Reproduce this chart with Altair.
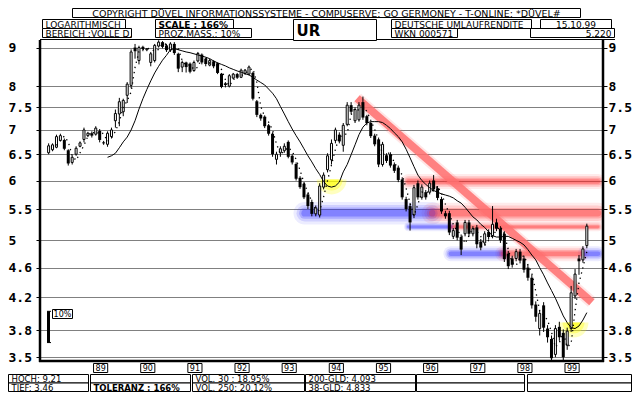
import altair as alt
import pandas as pd

# ---------------- data ----------------
MONTHS = [str(p) for p in pd.period_range("1988-05", "1999-10", freq="M")]

OPEN = [6.53, 6.59, 6.64, 6.78, 6.79, 6.58, 6.34, 6.50, 6.66, 6.80, 6.88, 6.93,
        6.91, 6.98, 6.74, 6.70, 6.86, 7.20, 7.35, 7.40, 7.78, 8.02, 9.00, 8.65,
        9.02, 8.94, 8.60, 8.65, 9.04, 9.15, 9.06, 8.93, 9.10, 8.83, 8.48, 8.60,
        8.57, 8.39, 8.64, 8.81, 8.70, 8.53, 8.63, 8.58, 8.31, 8.07, 8.00, 8.20,
        8.30, 8.22, 8.32, 8.30, 8.33, 7.64, 7.33, 7.29, 7.10, 6.92, 6.40, 6.53,
        6.57, 6.75, 6.47, 6.31, 6.05, 5.94, 5.75, 5.62, 5.42, 5.40, 5.88, 6.20,
        6.39, 6.78, 6.90, 6.68, 7.12, 7.55, 7.20, 7.22, 7.62, 7.30, 7.15, 6.88,
        6.80, 6.30, 6.48, 6.50, 6.30, 6.24, 6.02, 5.67, 5.55, 5.40, 5.95, 5.70,
        5.79, 5.79, 6.00, 5.86, 5.67, 5.43, 5.43, 5.06, 5.28, 5.05, 5.10, 5.28,
        5.10, 5.20, 4.98, 4.96, 5.13, 5.07, 5.28, 5.18, 5.10, 4.80, 4.73, 4.73,
        4.83, 4.73, 4.60, 4.46, 4.11, 3.82, 4.10, 3.82, 3.70, 3.53, 3.84, 3.77,
        3.63, 3.82, 4.22, 4.73, 4.71, 4.92]
HIGH = [6.72, 6.72, 6.90, 6.92, 6.82, 6.60, 6.48, 6.66, 6.76, 7.05, 6.96, 6.97,
        7.08, 7.02, 6.77, 6.97, 7.05, 7.45, 7.72, 7.70, 8.10, 8.95, 9.10, 9.05,
        9.05, 8.98, 8.88, 9.10, 9.20, 9.18, 9.10, 9.15, 9.15, 8.86, 8.65, 8.62,
        8.60, 8.65, 8.88, 8.84, 8.73, 8.70, 8.66, 8.60, 8.33, 8.10, 8.30, 8.33,
        8.33, 8.44, 8.43, 8.52, 8.36, 7.67, 7.36, 7.32, 7.13, 6.95, 6.55, 6.66,
        6.72, 6.78, 6.50, 6.34, 6.08, 5.97, 5.78, 5.66, 5.56, 5.95, 6.15, 6.52,
        6.80, 7.05, 6.95, 7.15, 7.62, 7.62, 7.50, 7.62, 7.75, 7.33, 7.18, 6.92,
        6.84, 6.75, 6.52, 6.54, 6.34, 6.28, 6.06, 5.71, 5.60, 5.92, 6.00, 5.93,
        5.83, 6.00, 6.10, 5.90, 5.71, 5.47, 5.47, 5.19, 5.32, 5.09, 5.32, 5.32,
        5.22, 5.24, 5.02, 5.14, 5.17, 5.55, 5.34, 5.22, 5.14, 4.84, 4.77, 4.87,
        4.87, 4.77, 4.64, 4.50, 4.15, 4.04, 4.14, 3.86, 3.74, 3.86, 3.90, 3.81,
        3.83, 4.35, 4.58, 4.78, 4.91, 5.26]
LOW = [6.50, 6.56, 6.62, 6.76, 6.58, 6.28, 6.30, 6.47, 6.64, 6.74, 6.85, 6.84,
       6.88, 6.74, 6.69, 6.65, 6.82, 7.05, 7.08, 7.30, 7.60, 7.95, 8.70, 8.55,
       8.90, 8.90, 8.50, 8.60, 9.00, 8.98, 8.88, 8.88, 8.80, 8.35, 8.35, 8.34,
       8.32, 8.36, 8.60, 8.55, 8.50, 8.50, 8.45, 8.30, 7.95, 7.97, 7.97, 8.17,
       8.18, 8.20, 8.28, 8.27, 7.66, 7.28, 7.20, 7.04, 6.88, 6.45, 6.30, 6.45,
       6.53, 6.42, 6.30, 6.00, 5.85, 5.67, 5.50, 5.38, 5.38, 5.36, 5.84, 6.15,
       6.30, 6.72, 6.72, 6.55, 7.08, 7.35, 7.15, 7.18, 7.22, 7.10, 6.83, 6.66,
       6.25, 6.26, 6.33, 6.24, 6.14, 5.97, 5.66, 5.46, 5.15, 5.35, 5.66, 5.66,
       5.66, 5.75, 5.80, 5.65, 5.42, 5.34, 5.08, 5.02, 5.00, 4.78, 5.06, 5.06,
       5.06, 4.88, 4.85, 4.92, 5.01, 5.03, 5.14, 4.96, 4.68, 4.58, 4.60, 4.69,
       4.66, 4.53, 4.42, 4.06, 3.90, 3.74, 3.78, 3.66, 3.46, 3.50, 3.68, 3.47,
       3.58, 3.78, 4.18, 4.50, 4.67, 4.88]
CLOSE = [6.67, 6.69, 6.86, 6.88, 6.61, 6.32, 6.44, 6.62, 6.73, 7.00, 6.93, 6.88,
         7.04, 6.79, 6.72, 6.93, 7.00, 7.36, 7.63, 7.66, 8.05, 8.88, 8.90, 9.00,
         8.96, 8.97, 8.83, 9.06, 9.15, 9.02, 8.93, 9.10, 8.85, 8.44, 8.60, 8.48,
         8.36, 8.60, 8.84, 8.60, 8.56, 8.65, 8.50, 8.33, 7.98, 8.03, 8.26, 8.30,
         8.21, 8.40, 8.40, 8.48, 7.70, 7.33, 7.25, 7.08, 6.92, 6.50, 6.50, 6.61,
         6.66, 6.45, 6.34, 6.03, 5.88, 5.70, 5.55, 5.42, 5.52, 5.90, 6.10, 6.47,
         6.72, 7.00, 6.76, 7.10, 7.55, 7.40, 7.45, 7.55, 7.27, 7.15, 6.87, 6.70,
         6.30, 6.70, 6.37, 6.28, 6.18, 6.01, 5.70, 5.50, 5.28, 5.87, 5.70, 5.88,
         5.70, 5.95, 5.84, 5.69, 5.46, 5.38, 5.12, 5.15, 5.04, 4.86, 5.28, 5.10,
         5.18, 4.94, 4.89, 5.10, 5.05, 5.25, 5.18, 5.00, 4.72, 4.62, 4.64, 4.83,
         4.70, 4.57, 4.46, 4.10, 3.96, 4.00, 3.83, 3.72, 3.49, 3.82, 3.72, 3.50,
         3.79, 4.26, 4.51, 4.69, 4.87, 5.22]

# 200-day line (starts Aug 1989) and 38-day line (starts Jul 1988)
MA200 = [6.44, 6.47, 6.52, 6.63, 6.75, 6.85, 7.00, 7.20, 7.46, 7.70, 7.92, 8.13,
         8.33, 8.50, 8.66, 8.79, 8.94, 8.97, 8.94, 8.91, 8.88, 8.86, 8.83, 8.80,
         8.77, 8.74, 8.70, 8.64, 8.59, 8.55, 8.51, 8.46, 8.42, 8.38, 8.35, 8.31,
         8.28, 8.22, 8.15, 8.09, 8.03, 7.93, 7.83, 7.70, 7.52, 7.35, 7.18, 7.02,
         6.88, 6.75, 6.61, 6.47, 6.35, 6.22, 6.11, 5.98, 5.90, 5.88, 5.90, 5.97,
         6.16, 6.30, 6.49, 6.69, 6.90, 7.06, 7.15, 7.18, 7.18, 7.18, 7.16, 7.10,
         7.03, 6.94, 6.86, 6.75, 6.60, 6.43, 6.26, 6.10, 6.00, 5.93, 5.87, 5.82,
         5.79, 5.76, 5.74, 5.72, 5.69, 5.64, 5.60, 5.53, 5.45, 5.37, 5.32, 5.25,
         5.20, 5.13, 5.07, 5.05, 5.05, 5.06, 5.06, 5.03, 5.00, 4.97, 4.93, 4.86,
         4.78, 4.71, 4.60, 4.50, 4.39, 4.29, 4.19, 4.08, 3.97, 3.89, 3.83, 3.82,
         3.85, 3.92, 4.01]
MA38 = [6.68, 6.78, 6.87, 6.75, 6.47, 6.38, 6.53, 6.68, 6.87, 6.97, 6.91, 6.96,
        6.92, 6.76, 6.83, 6.97, 7.18, 7.50, 7.65, 7.86, 8.47, 8.89, 8.95, 8.98,
        8.96, 8.90, 8.95, 9.11, 9.09, 8.98, 9.02, 8.98, 8.65, 8.52, 8.54, 8.42,
        8.48, 8.72, 8.72, 8.58, 8.61, 8.58, 8.42, 8.16, 8.01, 8.15, 8.28, 8.26,
        8.31, 8.40, 8.44, 8.09, 7.52, 7.29, 7.17, 7.00, 6.71, 6.50, 6.56, 6.64,
        6.56, 6.40, 6.19, 5.96, 5.79, 5.63, 5.49, 5.47, 5.71, 6.00, 6.29, 6.60,
        6.86, 6.88, 6.93, 7.33, 7.48, 7.43, 7.50, 7.41, 7.21, 7.01, 6.79, 6.50,
        6.50, 6.54, 6.33, 6.23, 6.10, 5.86, 5.60, 5.39, 5.58, 5.79, 5.79, 5.79,
        5.83, 5.90, 5.77, 5.58, 5.42, 5.25, 5.14, 5.10, 4.95, 5.07, 5.19, 5.14,
        5.06, 4.92, 5.00, 5.08, 5.15, 5.22, 5.09, 4.86, 4.67, 4.63, 4.74, 4.77,
        4.64, 4.52, 4.28, 4.03, 3.98, 3.92, 3.78, 3.61, 3.66, 3.77, 3.61, 3.65,
        4.03, 4.39, 4.60, 4.83]

# support / resistance bands
BAND_LEVEL = [5.43, 5.43, 5.21, 5.21, 5.98, 4.80, 4.80, 4.80]
BAND_FROM = [1993.85, 1996.55, 1996.05, 1996.95, 1996.05, 1996.95, 1998.05, 1999.80]
BAND_TO = [1996.55, 2000.07, 1996.95, 2000.07, 2000.07, 1998.05, 1999.72, 2000.07]
BAND_KIND = ["blue", "red", "blue", "red", "red", "blue", "red", "blue"]
BAND_WEIGHT = [1.5, 1.4, 0.6, 0.6, 1.0, 1.0, 1.0, 1.0]

TREND_T = [1994.96, 1999.94]
TREND_V = [7.71, 4.14]

GLOW_T = [1994.42, 1999.55]
GLOW_V = [6.02, 3.89]

SCALE_BAR = [3.66, 4.026]   # 10 % measuring bar

Y_TICKS = [3.5, 3.8, 4.2, 4.6, 5, 5.5, 6, 6.5, 7, 7.5, 8, 9]
YEAR_START = list(range(1989, 2000))
YEAR_LABEL = ["89", "90", "91", "92", "93", "94", "95", "96", "97", "98", "99"]

# ---------------- tables ----------------
T = [int(m[:4]) + int(m[5:]) / 12 for m in MONTHS]
cd = pd.DataFrame({"t": T, "o": OPEN, "h": HIGH, "l": LOW, "c": CLOSE})
cd["b0"] = cd[["o", "c"]].min(axis=1)
cd["b1"] = cd[["o", "c"]].max(axis=1)
up = cd[cd["c"] >= cd["o"]]
dn = cd[cd["c"] < cd["o"]]
ma200 = pd.DataFrame({"t": T[15:], "v": MA200})
ma38 = pd.DataFrame({"t": T[2:], "v": MA38})
bands = pd.DataFrame({"v": BAND_LEVEL, "t0": BAND_FROM, "t1": BAND_TO,
                      "kind": BAND_KIND, "w": BAND_WEIGHT})
trend = pd.DataFrame({"t": TREND_T, "v": TREND_V})
glow = pd.DataFrame({"t": GLOW_T, "v": GLOW_V})
years = pd.DataFrame({"y": YEAR_START, "lab": YEAR_LABEL})
sbar = pd.DataFrame({"a": [SCALE_BAR[0]], "b": [SCALE_BAR[1]]})
DUMMY = pd.DataFrame({"d": [0]})

W, H = 563, 321
MONO = "DejaVu Sans Mono"
SANS = "DejaVu Sans"
XS = alt.Scale(domain=[1988.34, 2000.07], nice=False, zero=False)
YS = alt.Scale(type="log", domain=[3.46, 9.21], nice=False)

def xq(f, axis=None):
    return alt.X(f, type="quantitative", scale=XS, axis=axis, title=None)

def yq(f, axis=None):
    return alt.Y(f, type="quantitative", scale=YS, axis=axis, title=None)

layers = []

# blurred bands
for k, op in [(15, 0.09), (11, 0.14), (7.5, 0.22), (4.5, 0.32)]:
    layers.append(
        alt.Chart(bands).transform_calculate(sw=f"datum.w * {k}")
        .mark_rule(opacity=op, strokeCap="round", clip=True)
        .encode(x=xq("t0:Q"), x2="t1:Q", y=yq("v:Q"),
                color=alt.Color("kind:N", scale=alt.Scale(domain=["red", "blue"],
                                range=["#ff2424", "#2a2aff"]), legend=None),
                strokeWidth=alt.StrokeWidth("sw:Q", scale=None, legend=None)))

# red trend line
layers.append(alt.Chart(trend).mark_line(color="#ff5050", strokeWidth=12, opacity=0.15,
                                         strokeCap="butt")
              .encode(x=xq("t:Q"), y=yq("v:Q")))
layers.append(alt.Chart(trend).mark_line(color="#ff7070", strokeWidth=8, opacity=0.85,
                                         strokeCap="butt")
              .encode(x=xq("t:Q"), y=yq("v:Q")))

# yellow glows
for r, op in [(15, 0.25), (11, 0.35), (7, 0.5)]:
    layers.append(alt.Chart(glow).mark_arc(radius=r, theta=1.5708, theta2=4.7124,
                                           color="#ffff00", opacity=op)
                  .encode(x=xq("t:Q"), y=yq("v:Q")))

# wicks + axes
left_axis = alt.Axis(values=Y_TICKS, orient="left", grid=True, gridDash=[1, 1],
                     gridColor="black", gridOpacity=1, gridWidth=1, domain=False,
                     ticks=True, tickSize=4, tickColor="black", tickWidth=1,
                     labelFont=MONO, labelFontSize=13, labelFontWeight="bold",
                     labelColor="black", labelAlign="left", labelBaseline="middle",
                     labelPadding=28, labelOverlap=False, labelFlush=False, format=".2~f")
right_axis = alt.Axis(values=Y_TICKS, orient="right", grid=False, domain=False,
                      ticks=True, tickSize=4, tickColor="black", tickWidth=1,
                      labelFont=MONO, labelFontSize=13, labelFontWeight="bold",
                      labelColor="black", labelAlign="left", labelBaseline="middle",
                      labelPadding=1, labelOverlap=False, labelFlush=False, format=".2~f")
x_axis = alt.Axis(values=YEAR_START, grid=True, gridDash=[1, 1], gridColor="black",
                  gridOpacity=1, gridWidth=1, labels=False, ticks=False, domain=False)

layers.append(alt.Chart(cd).mark_rule(color="black", strokeWidth=1)
              .encode(x=xq("t:Q", x_axis), y=yq("l:Q", left_axis), y2="h:Q"))
layers.append(alt.Chart(dn).mark_bar(size=3, color="black")
              .encode(x=xq("t:Q"), y=yq("b0:Q", right_axis), y2="b1:Q"))
layers.append(alt.Chart(up).mark_bar(size=2, fill="white", stroke="black", strokeWidth=1)
              .encode(x=xq("t:Q"), y=yq("b0:Q"), y2="b1:Q"))

# moving averages
layers.append(alt.Chart(ma200).mark_line(color="black", strokeWidth=1)
              .encode(x=xq("t:Q"), y=yq("v:Q")))
layers.append(alt.Chart(ma38).mark_line(color="black", strokeWidth=1.3, strokeDash=[1.3, 4])
              .encode(x=xq("t:Q"), y=yq("v:Q")))

# frame
def rule(x0, y0, x1=None, y1=None, w=1.0):
    enc = dict(x=alt.value(x0), y=alt.value(y0))
    if x1 is not None:
        enc["x2"] = alt.value(x1)
    if y1 is not None:
        enc["y2"] = alt.value(y1)
    return alt.Chart(DUMMY).mark_rule(color="black", strokeWidth=w).encode(**enc)

layers += [rule(0, 0, y1=H + 1, w=2.5), rule(W, 0, y1=H + 1, w=2.5),
           rule(-1, H, x1=W + 1, w=2.5), rule(0, -0.5, x1=575, w=1)]

# 10 % measuring bar
layers.append(alt.Chart(sbar).mark_rule(color="black", strokeWidth=3)
              .encode(x=alt.value(8.5), y=yq("a:Q"), y2="b:Q"))
layers.append(alt.Chart(sbar).mark_rule(color="black", strokeWidth=1)
              .encode(x=alt.value(7), x2=alt.value(11), y=yq("a:Q")))
layers.append(alt.Chart(sbar).mark_rule(color="black", strokeWidth=1)
              .encode(x=alt.value(7), x2=alt.value(11), y=yq("b:Q")))

# boxes
def box(x0, y0, x1, y1, text="", align="left", bold=False, size=9, font=SANS):
    out = [alt.Chart(DUMMY).mark_rect(fill="white", stroke="black", strokeWidth=1)
           .encode(x=alt.value(x0), x2=alt.value(x1), y=alt.value(y0), y2=alt.value(y1))]
    if text:
        tx = x0 + 3 if align == "left" else (x1 - 3 if align == "right" else (x0 + x1) / 2)
        out.append(alt.Chart(DUMMY).mark_text(text=text, align=align, baseline="middle",
                                              font=font, fontSize=size,
                                              fontWeight="bold" if bold else "normal",
                                              color="black")
                   .encode(x=alt.value(tx), y=alt.value((y0 + y1) / 2 + 0.5)))
    return out

layers += box(12.5, 269.5, 32.5, 278.5, "10%", "center", size=8)

# header (page coords minus 40)
O = -40
layers += box(72.5 + O, 8.5 + O, 580.5 + O, 17.5 + O,
              "COPYRIGHT  DÜVEL INFORMATIONSSYSTEME  -  COMPUSERVE: GO GERMONEY  -  T-ONLINE: *DÜVEL#",
              "center", size=9.5)
layers += box(42.5 + O, 19.5 + O, 125.5 + O, 28.5 + O, "LOGARITHMISCH")
layers += box(42.5 + O, 28.5 + O, 131.5 + O, 37.5 + O, "BEREICH :VOLLE D.")
layers += box(155.5 + O, 19.5 + O, 233.5 + O, 28.5 + O, "SCALE : 166%", bold=True)
layers += box(155.5 + O, 28.5 + O, 251.5 + O, 37.5 + O, "PROZ.MASS.: 10%")
layers += box(293.5 + O, 19.5 + O, 376.5 + O, 40.5 + O, "UR", bold=True, size=15)
layers += box(391.5 + O, 19.5 + O, 531.5 + O, 28.5 + O, "DEUTSCHE UMLAUFRENDITE")
layers += box(540.5 + O, 19.5 + O, 611.5 + O, 28.5 + O, "15.10.99", "center")
layers += box(391.5 + O, 28.5 + O, 457.5 + O, 37.5 + O, "WKN 000571")
layers += box(530.5 + O, 28.5 + O, 614.5 + O, 37.5 + O, "5.220", "right")

# footer (compressed slightly to fit the page)
FX = [(8.5, 88.5), (90.5, 190.5), (192.5, 304.5), (305.5, 415.5), (416.5, 524.5), (527.5, 631.5)]
ROW1 = ["HOCH: 9.21", "", "VOL. 30 : 18.95%", "200-GLD: 4.093", "", ""]
ROW2 = ["TIEF: 3.46", "TOLERANZ : 166%", "VOL. 250: 20.12%", " 38-GLD: 4.833", "", ""]
for (a, b), t1, t2 in zip(FX, ROW1, ROW2):
    layers += box(a + O, 374.5 + O, b + O, 383 + O, t1, size=8.5)
    layers += box(a + O, 383 + O, b + O, 391.5 + O, t2, bold=(t2.startswith("TOL")), size=8.5)

# year label boxes
layers.append(alt.Chart(years).transform_calculate(a="datum.y + 0.37", b="datum.y + 0.67")
              .mark_rect(fill="white", stroke="black", strokeWidth=1)
              .encode(x=xq("a:Q"), x2="b:Q", y=alt.value(363.5 + O), y2=alt.value(372.5 + O)))
layers.append(alt.Chart(years).transform_calculate(m="datum.y + 0.52")
              .mark_text(font=SANS, fontSize=8, color="black", baseline="middle")
              .encode(x=xq("m:Q"), y=alt.value(368.5 + O), text="lab:N"))

chart = (alt.layer(*layers)
         .resolve_axis(y="independent")
         .properties(width=W, height=H, background="white",
                     autosize=alt.AutoSizeParams(type="none"),
                     padding={"left": 32, "top": 32, "right": 29, "bottom": 31})
         .configure_view(stroke=None))

chart.save("out.html", embed_options={"renderer": "svg", "actions": False})
